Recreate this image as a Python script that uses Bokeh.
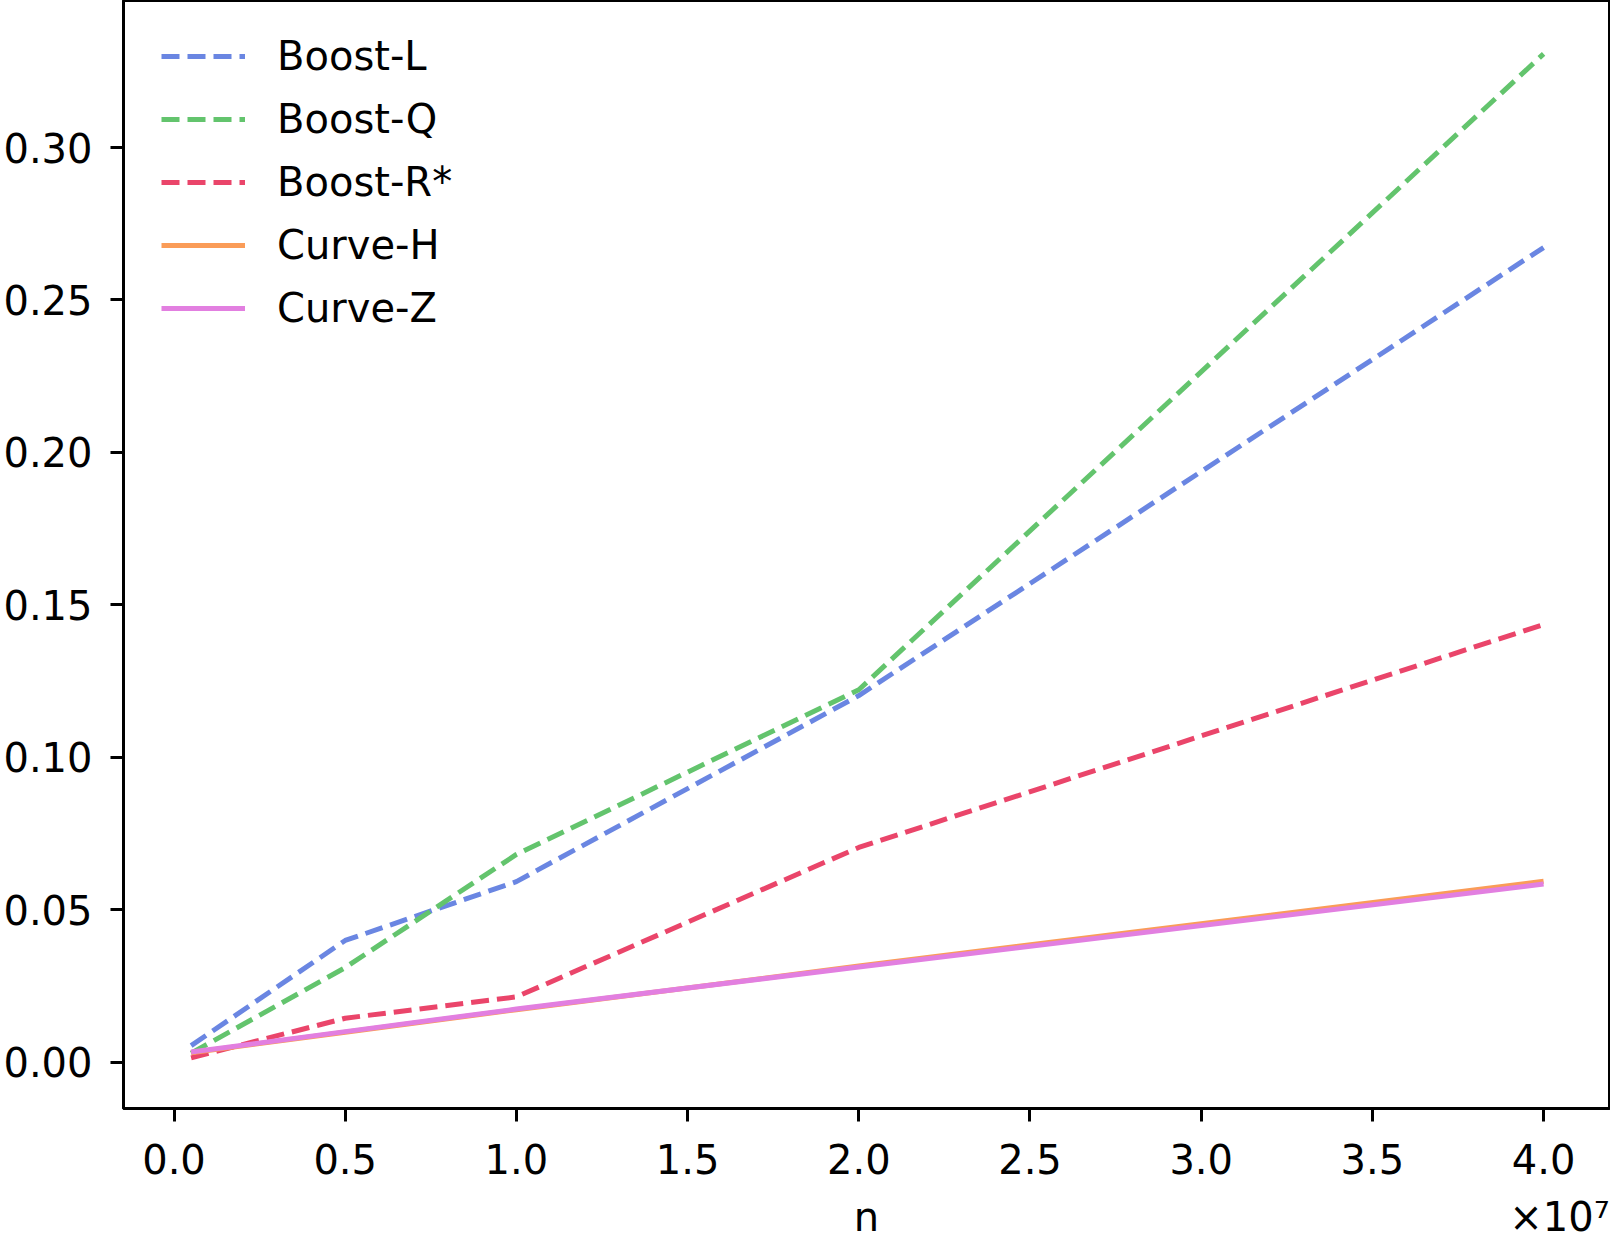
from bokeh.plotting import figure
from bokeh.models import Range1d, FixedTicker, Legend, LegendItem, LinearAxis
from bokeh.embed import file_html
from bokeh.resources import INLINE

# Problem sizes and measured times
n_values = [500000, 5000000, 10000000, 20000000, 40000000]

boost_l = [0.0055, 0.0400, 0.0593, 0.1203, 0.2672]
boost_q = [0.0030, 0.0311, 0.0682, 0.1222, 0.3307]
boost_r = [0.0015, 0.0145, 0.0215, 0.0705, 0.1436]
curve_h = [0.0032, 0.0099, 0.0173, 0.0316, 0.0594]
curve_z = [0.0034, 0.0101, 0.0175, 0.0313, 0.0585]

series_names = ["Boost-L", "Boost-Q", "Boost-R*", "Curve-H", "Curve-Z"]

x_ticks = [0, 5000000, 10000000, 15000000, 20000000, 25000000, 30000000, 35000000, 40000000]
x_tick_labels = ["0.0", "0.5", "1.0", "1.5", "2.0", "2.5", "3.0", "3.5", "4.0"]
y_ticks = [0.0, 0.05, 0.1, 0.15, 0.2, 0.25, 0.3]
y_tick_labels = ["0.00", "0.05", "0.10", "0.15", "0.20", "0.25", "0.30"]

x_title = "n"
x_multiplier = "×10⁷"

FONT = "DejaVu Sans"
FS = "40px"

X_START, X_END = -1475000, 41925000

p = figure(
    frame_width=1486, frame_height=1108,
    min_border_left=122, min_border_right=2, min_border_top=0, min_border_bottom=130,
    x_range=Range1d(X_START, X_END), y_range=Range1d(-0.0151, 0.3482),
    output_backend="svg", toolbar_location=None,
    background_fill_color="white", border_fill_color="white",
)
p.grid.visible = False
p.outline_line_color = "black"
p.outline_line_width = 3

for ax in (p.xaxis[0], p.yaxis[0]):
    ax.axis_line_width = 3
    ax.major_tick_line_width = 3
    ax.major_tick_out = 13
    ax.major_tick_in = 0
    ax.minor_tick_out = 0
    ax.minor_tick_in = 0
    ax.major_label_text_font = FONT
    ax.major_label_text_font_size = FS
    ax.major_label_text_color = "black"

p.xaxis.major_label_standoff = 22
p.yaxis.major_label_standoff = 18
p.xaxis.ticker = FixedTicker(ticks=x_ticks)
p.xaxis.major_label_overrides = dict(zip(x_ticks, x_tick_labels))
p.yaxis.ticker = FixedTicker(ticks=y_ticks)
p.yaxis.major_label_overrides = dict(zip(y_ticks, y_tick_labels))

# second row under the x axis: the axis title centred, the scale factor at the right end
x_center = (X_START + X_END) / 2
mult_pos = 40465000
title_axis = LinearAxis(
    ticker=FixedTicker(ticks=[x_center, mult_pos]),
    major_label_overrides={x_center: x_title, mult_pos: x_multiplier},
    axis_line_color=None, major_tick_line_color=None,
    major_tick_out=0, major_tick_in=0, minor_tick_out=0, minor_tick_in=0,
    major_label_standoff=17,
    major_label_text_font=FONT, major_label_text_font_size=FS,
    major_label_text_color="black",
)
p.add_layout(title_axis, "below")

styles = [
    (boost_l, "#6a86e2", "18 8"),
    (boost_q, "#63c46d", "18 8"),
    (boost_r, "#ea456a", "18 8"),
    (curve_h, "#fa9c58", "solid"),
    (curve_z, "#e27fe0", "solid"),
]

items = []
for name, (ys, color, dash) in zip(series_names, styles):
    r = p.line(n_values, ys, line_color=color, line_width=5, line_dash=dash)
    items.append(LegendItem(label=name, renderers=[r]))

legend = Legend(
    items=items, location=(38, 777),
    margin=0, padding=0, spacing=17,
    glyph_width=84, glyph_height=46, label_height=46, label_standoff=32,
    label_text_font=FONT, label_text_font_size=FS, label_text_color="black",
    border_line_color=None, background_fill_alpha=0,
)
p.add_layout(legend)

open("out.html", "w").write(file_html(p, INLINE))
